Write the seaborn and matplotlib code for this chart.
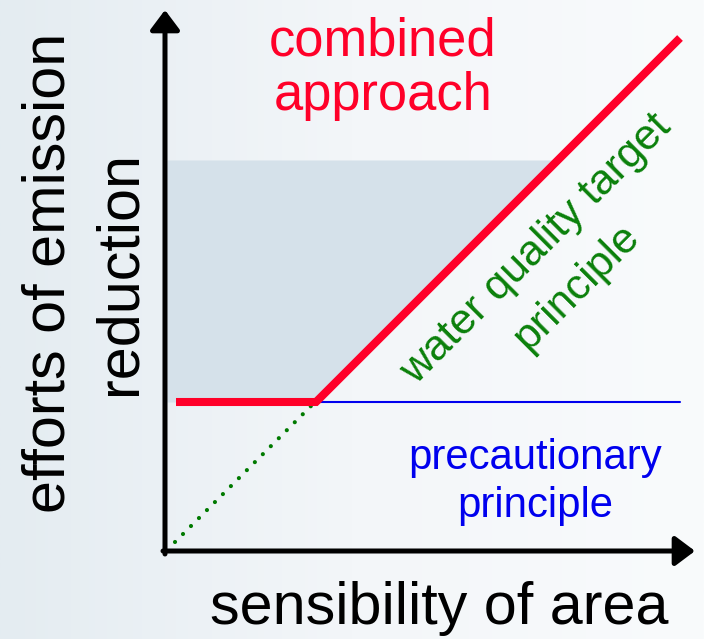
import numpy as np
import matplotlib
matplotlib.use("Agg")
import matplotlib.pyplot as plt
import seaborn as sns
from matplotlib.colors import LinearSegmentedColormap

sns.set_theme(style="white")
plt.rcParams["font.family"] = ["Liberation Sans", "DejaVu Sans"]

# ---- data (conceptual units, axis origin at 0,0) ----
combined_x = [11, 151, 515]
combined_y = [149, 149, 513]
precaution_x = [151, 515]
precaution_y = [149, 149]
target_x = [10, 148]
target_y = [9, 147]
shade_x = [2, 151, 393]
shade_low = [149, 149, 391]
shade_high = [391, 391, 391]

RED = "#ff0029"
BLUE = "#0000ee"
GREEN = "#0a800a"

fig = plt.figure(figsize=(7.04, 6.39), dpi=100)
ax = fig.add_axes([0, 0, 1, 1])
ax.set_xlim(-165, 539)
ax.set_ylim(-88, 551)
ax.axis("off")

# background gradient
cmap = LinearSegmentedColormap.from_list("bg", ["#e4ecf1", "#f3f6f9", "#f9fbfc"])
grad = np.linspace(0, 1, 256)[None, :]
ax.imshow(grad, cmap=cmap, extent=(-165, 539, -88, 551), aspect="auto", zorder=0)

# shaded region
ax.fill_between(shade_x, shade_low, shade_high, color="#d5e1ea", lw=0, zorder=1)

# lines
sns.lineplot(x=target_x, y=target_y, sort=False, ax=ax, color="#007a00", lw=3.0,
             linestyle=(0, (0.01, 2.7)), dash_capstyle="round", zorder=2)
sns.lineplot(x=precaution_x, y=precaution_y, sort=False, ax=ax, color=BLUE, lw=1.5, zorder=3)
sns.lineplot(x=combined_x, y=combined_y, sort=False, ax=ax, color=RED, lw=5.8, zorder=4,
             solid_joinstyle="miter", solid_capstyle="butt")

# axes arrows
arrow_kw = dict(arrowstyle="-|>,head_length=0.6,head_width=0.45", mutation_scale=20,
                lw=3.6, color="black", shrinkA=0, shrinkB=0)
ax.annotate("", xy=(0, 541), xytext=(0, -3), arrowprops=arrow_kw, zorder=5)
ax.annotate("", xy=(530, 0), xytext=(-2, 0), arrowprops=arrow_kw, zorder=5)

# texts
ax.text(218, 496, "combined", color=RED, fontsize=37.8, ha="center", va="baseline")
ax.text(218, 441, "approach", color=RED, fontsize=37.8, ha="center", va="baseline")
ax.text(370, 82, "precautionary", color=BLUE, fontsize=30.2, ha="center", va="baseline")
ax.text(370, 34, "principle", color=BLUE, fontsize=30.2, ha="center", va="baseline")
ax.text(274, -73, "sensibility of area", color="black", fontsize=42.7, ha="center", va="baseline")
ax.text(-100, 278, "efforts of emission", color="black", fontsize=42.7, rotation=90,
        rotation_mode="anchor", ha="center", va="baseline")
ax.text(-30, 278, "reduction", color="black", fontsize=42.7, rotation=90,
        rotation_mode="anchor", ha="center", va="baseline")
ax.text(371, 302, "water quality target", color=GREEN, fontsize=31, rotation=45,
        rotation_mode="anchor", ha="center", va="center")
ax.text(412, 264, "principle", color=GREEN, fontsize=31, rotation=45,
        rotation_mode="anchor", ha="center", va="center")

fig.savefig("out.png", dpi=100)
